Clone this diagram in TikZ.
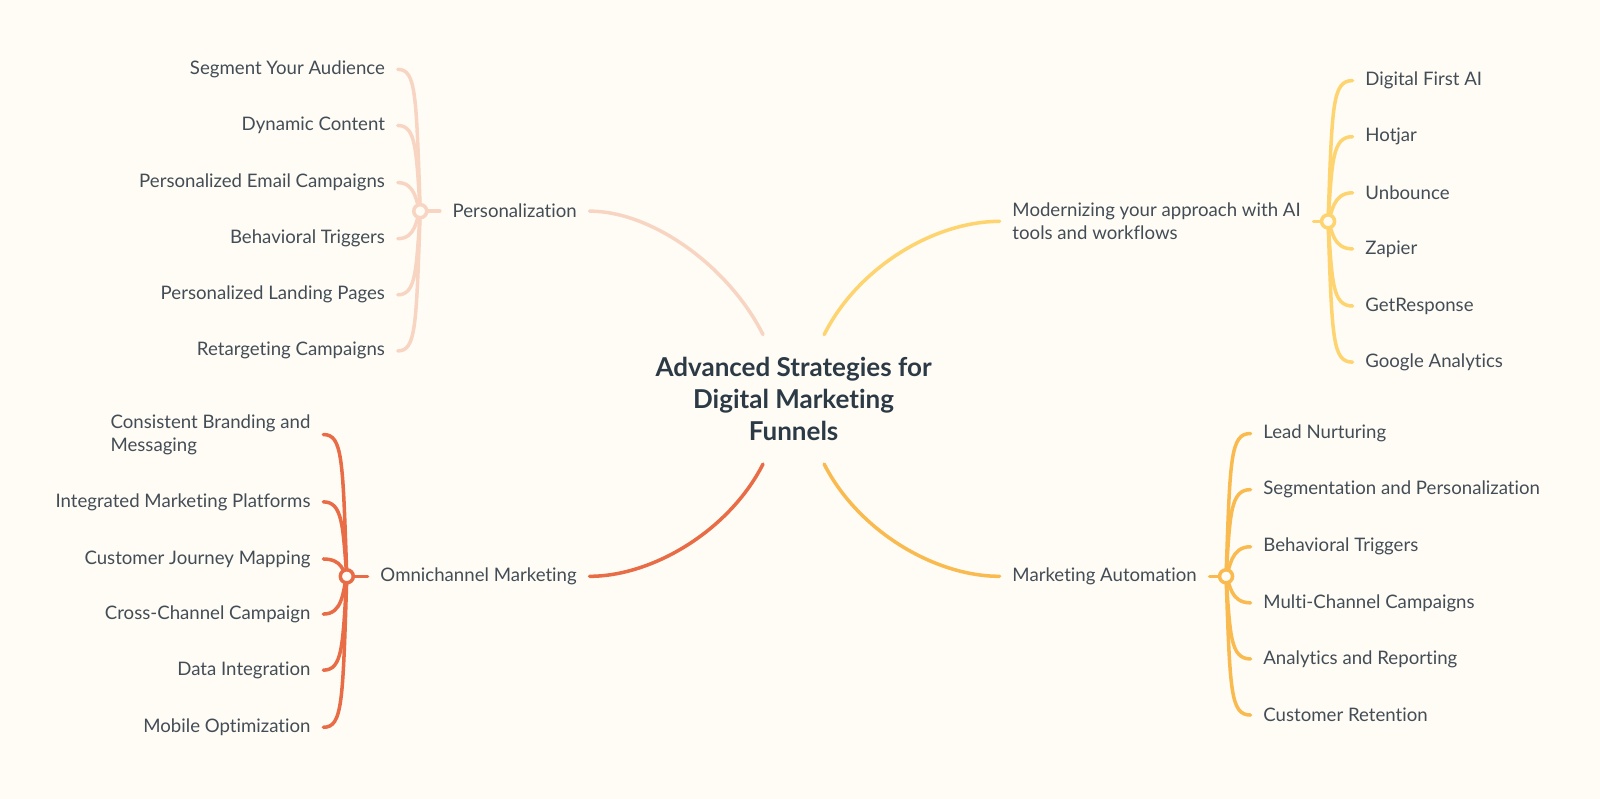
\documentclass[tikz,border=0pt]{standalone}
\usepackage{fontspec}
\setmainfont{Lato}[Ligatures={NoCommon,NoContextual}]
\usepackage{tikz}
\definecolor{bgc}{HTML}{FFFCF5}
\definecolor{txt}{HTML}{434D56}
\definecolor{ttl}{HTML}{2C3A46}
\definecolor{cpers}{HTML}{F8D5C2}
\definecolor{cmod}{HTML}{FDD46F}
\definecolor{cauto}{HTML}{F9BA50}
\definecolor{comni}{HTML}{E86D47}

\begin{document}
\begin{tikzpicture}[x=0.0204cm, y=-0.0204cm,
    title/.style={text=ttl, font=\bfseries\fontsize{14.8}{18}\selectfont, align=center},
    mainlbl/.style={text=txt, font=\fontsize{10.6}{13.3}\selectfont, inner xsep=0.25cm, inner ysep=2pt},
    leaf/.style={text=txt, font=\fontsize{10.6}{13.3}\selectfont, inner xsep=0.25cm, inner ysep=2pt},
    br/.style={line width=2pt, line cap=round},
    jn/.style={circle, fill=bgc, line width=2pt, minimum size=0.26cm, inner sep=0pt}]
			\fill [bgc] (0, 0) rectangle (1568.6, 783.3);
			\useasboundingbox (0, 0) rectangle (1568.6, 783.3);
			% centre
			\node [title] (root) at (778, 391) {Advanced Strategies for\\Digital Marketing\\Funnels};
			\coordinate (rtl) at (748, 328);
			\coordinate (rtr) at (808, 328);
			\coordinate (rbl) at (748, 455);
			\coordinate (rbr) at (808, 455);
			% main branches
			\node [mainlbl, anchor=east] (pers) at (578, 207) {Personalization};
			\node [mainlbl, anchor=west, align=left] (mod) at (980, 217) {Modernizing your approach with AI\\tools and workflows};
			\node [mainlbl, anchor=east] (omni) at (578, 565) {Omnichannel Marketing};
			\node [mainlbl, anchor=west] (auto) at (980, 565) {Marketing Automation};
			\draw [br, cpers] (rtl) .. controls (715, 262) and (640, 207) .. (pers.east);
			\draw [br, cmod] (rtr) .. controls (841, 262) and (916, 217) .. (mod.west);
			\draw [br, comni] (rbl) .. controls (715, 520) and (640, 565) .. (omni.east);
			\draw [br, cauto] (rbr) .. controls (841, 520) and (916, 565) .. (auto.west);
			% junctions
			\coordinate (pj) at (412, 207);
			\coordinate (mj) at (1302, 217);
			\coordinate (oj) at (340, 565);
			\coordinate (aj) at (1202, 565);
			% Personalization
			\node [leaf, anchor=east] (p1) at (390, 68) {Segment Your Audience};
			\node [leaf, anchor=east] (p2) at (390, 123) {Dynamic Content};
			\node [leaf, anchor=east] (p3) at (390, 179) {Personalized Email Campaigns};
			\node [leaf, anchor=east] (p4) at (390, 234) {Behavioral Triggers};
			\node [leaf, anchor=east] (p5) at (390, 289) {Personalized Landing Pages};
			\node [leaf, anchor=east] (p6) at (390, 344) {Retargeting Campaigns};
			\draw [br, cpers] (pers.west) -- (pj);
			\draw [br, cpers] (pj) .. controls (408, 92) and (408, 68) .. (p1.east);
			\draw [br, cpers] (pj) .. controls (408, 147) and (408, 123) .. (p2.east);
			\draw [br, cpers] (pj) .. controls (408, 200) and (408, 179) .. (p3.east);
			\draw [br, cpers] (pj) .. controls (408, 214) and (408, 234) .. (p4.east);
			\draw [br, cpers] (pj) .. controls (408, 265) and (408, 289) .. (p5.east);
			\draw [br, cpers] (pj) .. controls (408, 320) and (408, 344) .. (p6.east);
			\node [jn, draw=cpers] (pjc) at (pj) {};
			% Modernizing
			\node [leaf, anchor=west] (m1) at (1326, 79) {Digital First AI};
			\node [leaf, anchor=west] (m2) at (1326, 134) {Hotjar};
			\node [leaf, anchor=west] (m3) at (1326, 189) {Unbounce};
			\node [leaf, anchor=west] (m4) at (1326, 244) {Zapier};
			\node [leaf, anchor=west] (m5) at (1326, 300) {GetResponse};
			\node [leaf, anchor=west] (m6) at (1326, 355) {Google Analytics};
			\draw [br, cmod] (mod.east) -- (mj);
			\draw [br, cmod] (mj) .. controls (1306, 103) and (1306, 79) .. (m1.west);
			\draw [br, cmod] (mj) .. controls (1306, 158) and (1306, 134) .. (m2.west);
			\draw [br, cmod] (mj) .. controls (1306, 210) and (1306, 189) .. (m3.west);
			\draw [br, cmod] (mj) .. controls (1306, 224) and (1306, 244) .. (m4.west);
			\draw [br, cmod] (mj) .. controls (1306, 276) and (1306, 300) .. (m5.west);
			\draw [br, cmod] (mj) .. controls (1306, 331) and (1306, 355) .. (m6.west);
			\node [jn, draw=cmod] (mjc) at (mj) {};
			% Omnichannel
			\node [leaf, anchor=east, align=left] (o1) at (317, 426) {Consistent Branding and\\Messaging};
			\node [leaf, anchor=east] (o2) at (317, 492) {Integrated Marketing Platforms};
			\node [leaf, anchor=east] (o3) at (317, 548) {Customer Journey Mapping};
			\node [leaf, anchor=east] (o4) at (317, 602) {Cross-Channel Campaign};
			\node [leaf, anchor=east] (o5) at (317, 657) {Data Integration};
			\node [leaf, anchor=east] (o6) at (317, 713) {Mobile Optimization};
			\draw [br, comni] (omni.west) -- (oj);
			\draw [br, comni] (oj) .. controls (336, 450) and (336, 426) .. (o1.east);
			\draw [br, comni] (oj) .. controls (336, 516) and (336, 492) .. (o2.east);
			\draw [br, comni] (oj) .. controls (336, 561) and (336, 548) .. (o3.east);
			\draw [br, comni] (oj) .. controls (336, 580) and (336, 602) .. (o4.east);
			\draw [br, comni] (oj) .. controls (336, 633) and (336, 657) .. (o5.east);
			\draw [br, comni] (oj) .. controls (336, 689) and (336, 713) .. (o6.east);
			\node [jn, draw=comni] (ojc) at (oj) {};
			% Marketing Automation
			\node [leaf, anchor=west] (a1) at (1226, 425) {Lead Nurturing};
			\node [leaf, anchor=west] (a2) at (1226, 480) {Segmentation and Personalization};
			\node [leaf, anchor=west] (a3) at (1226, 536) {Behavioral Triggers};
			\node [leaf, anchor=west] (a4) at (1226, 591) {Multi-Channel Campaigns};
			\node [leaf, anchor=west] (a5) at (1226, 646) {Analytics and Reporting};
			\node [leaf, anchor=west] (a6) at (1226, 701) {Customer Retention};
			\draw [br, cauto] (auto.east) -- (aj);
			\draw [br, cauto] (aj) .. controls (1206, 449) and (1206, 425) .. (a1.west);
			\draw [br, cauto] (aj) .. controls (1206, 504) and (1206, 480) .. (a2.west);
			\draw [br, cauto] (aj) .. controls (1206, 558) and (1206, 536) .. (a3.west);
			\draw [br, cauto] (aj) .. controls (1206, 572) and (1206, 591) .. (a4.west);
			\draw [br, cauto] (aj) .. controls (1206, 622) and (1206, 646) .. (a5.west);
			\draw [br, cauto] (aj) .. controls (1206, 677) and (1206, 701) .. (a6.west);
			\node [jn, draw=cauto] (ajc) at (aj) {};
		\end{tikzpicture}
\end{document}
